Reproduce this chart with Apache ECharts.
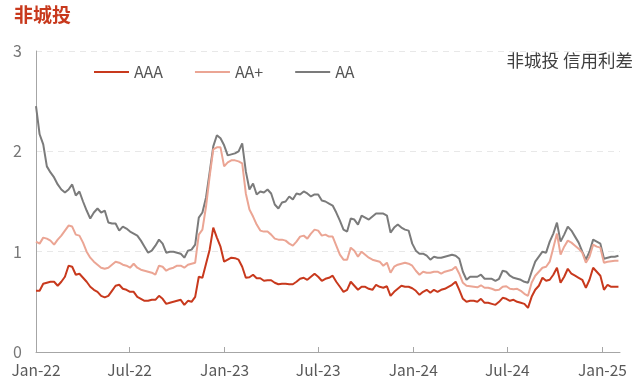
<!DOCTYPE html>
<html><head><meta charset="utf-8">
<script src="https://cdn.jsdelivr.net/npm/echarts@6/dist/echarts.min.js"></script>
<style>html,body{margin:0;padding:0;background:#fff}#c{width:640px;height:388px}</style>
</head><body><div id="c"></div>
<script>
// weekly observations starting 2022-01-01
const startYear = 2022, startMonth = 0, startDay = 1;
const tickDates = [[2022,0,1],[2022,6,1],[2023,0,1],[2023,6,1],[2024,0,1],[2024,6,1],[2025,0,1]];
const tickLabels = ['Jan-22','Jul-22','Jan-23','Jul-23','Jan-24','Jul-24','Jan-25'];
const yTicks = [0, 1, 2, 3];
const seriesNames = ['AAA', 'AA+', 'AA'];

const aaa = [0.61,0.61,0.68,0.69,0.70,0.70,0.66,0.70,0.75,0.86,0.85,0.77,0.78,0.74,0.70,0.65,0.62,0.60,0.56,0.545,0.56,0.61,0.66,0.67,0.63,0.62,0.60,
0.60,0.55,0.53,0.51,0.51,0.52,0.52,0.56,0.53,0.48,0.49,0.50,0.51,0.52,0.47,0.51,0.50,0.55,0.75,0.74,0.88,1.02,1.24,1.14,1.05,0.90,
0.92,0.94,0.935,0.92,0.85,0.74,0.745,0.77,0.735,0.735,0.71,0.715,0.715,0.69,0.675,0.68,0.68,0.675,0.675,0.70,0.73,0.74,0.72,0.75,0.78,0.75,
0.71,0.73,0.74,0.76,0.70,0.65,0.60,0.62,0.70,0.66,0.62,0.65,0.65,0.63,0.62,0.67,0.65,0.64,0.655,0.56,0.60,0.63,0.66,0.65,0.65,0.635,0.61,0.57,
0.60,0.62,0.59,0.62,0.60,0.62,0.63,0.65,0.67,0.70,0.62,0.53,0.50,0.51,0.51,0.50,0.53,0.49,0.49,0.48,0.47,0.50,0.54,0.53,0.51,0.52,0.50,0.49,
0.48,0.44,0.55,0.62,0.66,0.74,0.71,0.72,0.77,0.84,0.69,0.75,0.83,0.78,0.76,0.74,0.72,0.64,0.72,0.84,0.80,0.76,0.62,0.67,0.65,0.65,0.65];

const aaPlus = [1.10,1.08,1.14,1.13,1.11,1.07,1.12,1.16,1.21,1.26,1.25,1.17,1.16,1.09,1.00,0.94,0.90,0.87,0.84,0.83,0.84,0.87,0.90,0.89,0.87,0.86,0.84,
0.88,0.84,0.82,0.81,0.80,0.79,0.77,0.86,0.85,0.81,0.83,0.84,0.86,0.86,0.84,0.87,0.88,0.89,1.17,1.22,1.45,1.75,2.02,2.04,2.04,1.85,
1.89,1.91,1.91,1.90,1.88,1.58,1.42,1.35,1.27,1.21,1.20,1.20,1.17,1.13,1.12,1.12,1.11,1.08,1.06,1.10,1.15,1.16,1.13,1.18,1.22,1.21,
1.16,1.17,1.15,1.15,1.06,0.97,0.92,0.92,1.04,1.01,0.95,1.00,0.97,0.94,0.92,0.91,0.90,0.86,0.89,0.79,0.85,0.87,0.88,0.89,0.88,0.86,0.81,0.77,
0.80,0.79,0.79,0.80,0.80,0.78,0.80,0.81,0.82,0.85,0.78,0.69,0.66,0.655,0.65,0.645,0.665,0.64,0.64,0.63,0.615,0.62,0.65,0.655,0.63,0.625,0.63,0.61,
0.58,0.56,0.69,0.76,0.80,0.84,0.85,0.90,1.04,1.18,0.97,1.05,1.11,1.09,1.06,1.03,0.99,0.89,0.95,1.07,1.05,1.04,0.89,0.90,0.905,0.91,0.91];

const aa = [2.45,2.17,2.07,1.85,1.79,1.74,1.67,1.62,1.59,1.62,1.67,1.56,1.60,1.50,1.41,1.33,1.39,1.43,1.39,1.41,1.29,1.28,1.28,1.21,1.25,1.23,1.20,
1.18,1.16,1.11,1.05,0.99,1.01,1.06,1.12,1.08,0.99,1.00,1.00,0.99,0.98,0.94,1.01,1.02,1.07,1.34,1.39,1.54,1.79,2.05,2.16,2.13,2.06,
1.96,1.97,1.98,2.00,2.08,1.80,1.62,1.68,1.57,1.60,1.59,1.62,1.58,1.47,1.43,1.49,1.50,1.55,1.52,1.58,1.57,1.60,1.58,1.55,1.57,1.57,
1.51,1.50,1.48,1.46,1.39,1.31,1.22,1.20,1.33,1.32,1.27,1.36,1.34,1.32,1.35,1.38,1.38,1.38,1.36,1.19,1.24,1.27,1.24,1.22,1.21,1.08,1.01,0.98,
0.98,0.96,0.92,0.95,0.94,0.94,0.95,0.96,0.97,0.96,0.93,0.80,0.72,0.75,0.75,0.75,0.77,0.73,0.73,0.73,0.71,0.73,0.81,0.80,0.76,0.74,0.73,0.72,
0.70,0.69,0.80,0.90,0.95,1.00,0.99,1.10,1.18,1.29,1.10,1.17,1.25,1.21,1.15,1.09,1.00,0.92,1.00,1.12,1.10,1.08,0.93,0.94,0.95,0.95,0.96];

const dates = aa.map((_, i) => new Date(startYear, startMonth, startDay + 7 * i).getTime());
const tickTimes = tickDates.map(d => new Date(d[0], d[1], d[2]).getTime());
const colors = ['#c8391d', '#eba594', '#7b7b7b'];
const FONT = 'Noto Sans CJK SC';

const chart = echarts.init(document.getElementById('c'), null, {renderer: 'canvas'});
const values = [aaa, aaPlus, aa];
chart.setOption({
  animation: false,
  textStyle: {fontFamily: FONT},
  title: {
    text: '非城投', left: 9, top: 0,
    textStyle: {fontSize: 19, fontWeight: 'bold', color: '#c8391d', fontFamily: FONT}
  },
  graphic: [{
    type: 'text', x: 633, y: 60,
    style: {text: '非城投 信用利差', fill: '#404040', font: '17.5px "Noto Sans CJK SC"', textAlign: 'right', textVerticalAlign: 'middle'}
  }],
  legend: {
    left: 89, top: 59, itemWidth: 35, itemHeight: 2, itemGap: 32, icon: 'rect',
    textStyle: {fontSize: 16, color: '#555', fontFamily: FONT},
    data: seriesNames
  },
  grid: {left: 36, right: 20, top: 51, bottom: 36, containLabel: false},
  xAxis: {
    type: 'value',
    min: new Date(2022, 0, 1).getTime(),
    max: new Date(2025, 1, 4).getTime(),
    axisLine: {lineStyle: {color: '#a6a6a6', width: 1}},
    axisTick: {show: true, inside: true, length: 5, customValues: tickTimes, lineStyle: {color: '#a6a6a6'}},
    axisLabel: {
      customValues: tickTimes, margin: 10, fontSize: 15.5, color: '#595959', fontFamily: FONT,
      formatter: v => { const k = tickTimes.indexOf(v); return k >= 0 ? tickLabels[k] : ''; }
    },
    splitLine: {show: false}
  },
  yAxis: {
    type: 'value', min: yTicks[0], max: yTicks[yTicks.length - 1], interval: 1,
    axisLine: {show: true, lineStyle: {color: '#a6a6a6'}},
    axisTick: {show: false},
    axisLabel: {fontSize: 16, color: '#777', margin: 14, fontFamily: FONT},
    splitLine: {show: true, lineStyle: {type: [6, 5], color: '#e8e8e8', width: 1}}
  },
  series: seriesNames.map((n, k) => ({
    name: n, type: 'line', showSymbol: false, symbol: 'none',
    data: dates.map((d, i) => [d, values[k][i]]),
    lineStyle: {color: colors[k], width: 2},
    itemStyle: {color: colors[k]},
    z: 3 - k
  }))
});
</script></body></html>
